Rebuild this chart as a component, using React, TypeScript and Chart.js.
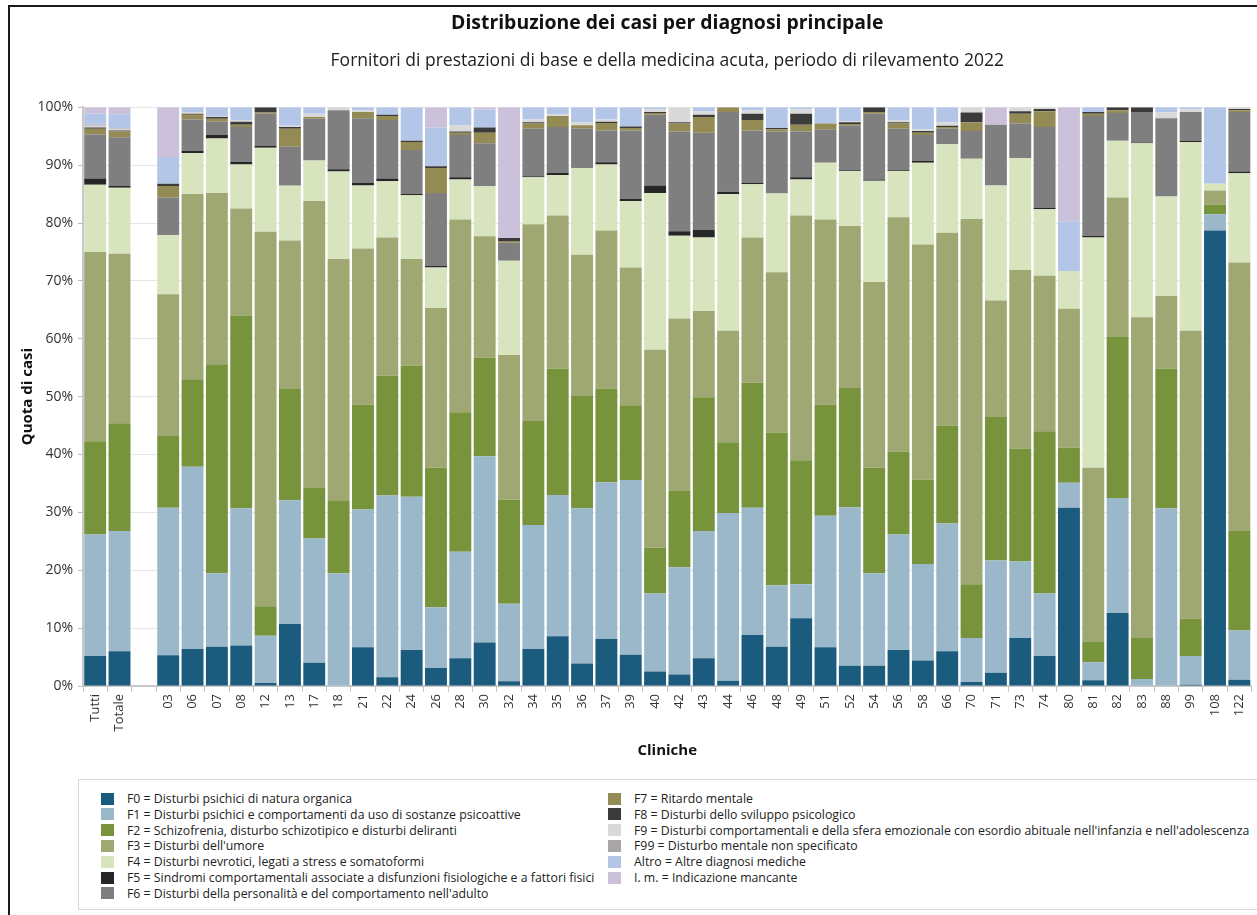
import React, { useEffect, useRef } from 'react';
import { Chart, registerables } from 'chart.js';

Chart.register(...registerables);

const FONT = '"Open Sans", "Noto Sans", sans-serif';

// Categories (groups of 10 per line)
const CATEGORIES = [
  'Tutti', 'Totale', '', '03', '06', '07', '08', '12', '13', '17',
  '18', '21', '22', '24', '26', '28', '30', '32', '34', '35',
  '36', '37', '39', '40', '42', '43', '44', '46', '48', '49',
  '51', '52', '54', '56', '58', '66', '70', '71', '73', '74',
  '80', '81', '82', '83', '88', '99', '108', '122',
];

const F0 = [
  5.2, 6.0, null, 5.3, 6.4, 6.8, 7.0, 0.5, 10.7, 4.0,
  0, 6.7, 1.5, 6.2, 3.1, 4.8, 7.5, 0.8, 6.4, 8.6,
  3.9, 8.1, 5.4, 2.5, 2.0, 4.8, 0.9, 8.8, 6.8, 11.7,
  6.7, 3.5, 3.5, 6.2, 4.4, 6.0, 0.7, 2.3, 8.3, 5.2,
  30.8, 1.0, 12.6, 0, 0, 0.2, 78.7, 1.1,
];
const F1 = [
  21.0, 20.8, null, 25.5, 31.5, 12.7, 23.7, 8.2, 21.4, 21.5,
  19.5, 23.8, 31.4, 26.5, 10.5, 18.4, 32.2, 13.4, 21.4, 24.4,
  26.8, 27.1, 30.2, 13.5, 18.5, 22.0, 29.0, 22.0, 10.6, 5.9,
  22.7, 27.4, 16.0, 20.0, 16.7, 22.1, 7.6, 19.4, 13.2, 10.8,
  4.3, 3.1, 19.9, 1.2, 30.7, 5.0, 2.8, 8.5,
];
const F2 = [
  16.1, 18.6, null, 12.4, 15.1, 36.1, 33.3, 5.1, 19.2, 8.7,
  12.6, 18.1, 20.7, 22.7, 24.1, 24.1, 17.0, 18.0, 18.0, 21.8,
  19.4, 16.2, 12.9, 7.9, 13.2, 23.1, 12.2, 21.6, 26.4, 21.4,
  19.2, 20.6, 18.2, 14.3, 14.6, 16.9, 9.3, 24.8, 19.5, 28.0,
  6.1, 3.5, 27.8, 7.1, 24.1, 6.4, 1.7, 17.2,
];
const F3 = [
  32.7, 29.3, null, 24.5, 32.0, 29.6, 18.5, 64.7, 25.7, 49.6,
  41.7, 27.0, 23.9, 18.4, 27.6, 33.3, 21.0, 25.0, 34.0, 26.5,
  24.4, 27.3, 23.8, 34.2, 29.8, 14.9, 19.3, 25.1, 27.7, 42.3,
  32.0, 28.0, 32.1, 40.5, 40.6, 33.3, 63.1, 20.1, 30.9, 26.9,
  24.0, 30.1, 24.1, 55.4, 12.6, 49.8, 2.4, 46.4,
];
const F4 = [
  11.6, 11.4, null, 10.2, 7.1, 9.4, 7.6, 14.5, 9.5, 7.0,
  15.1, 10.9, 9.7, 11.0, 7.0, 6.9, 8.7, 16.3, 8.1, 7.0,
  15.0, 11.4, 11.5, 27.1, 14.3, 12.7, 23.6, 9.2, 13.6, 6.2,
  9.8, 9.5, 17.5, 8.0, 14.1, 15.3, 10.4, 19.9, 19.3, 11.5,
  6.5, 39.8, 9.8, 30.1, 17.2, 32.6, 1.2, 15.4,
];
const F5 = [
  1.1, 0.3, null, 0, 0.4, 0.6, 0.5, 0.3, 0.1, 0,
  0.4, 0.4, 0.5, 0.2, 0.3, 0.4, 0, 0, 0.2, 0.4,
  0, 0.4, 0.4, 1.3, 0.8, 1.3, 0.4, 0.2, 0, 0.4,
  0, 0.1, 0.2, 0.1, 0.3, 0, 0, 0, 0, 0.2,
  0, 0.3, 0, 0.1, 0, 0.2, 0, 0.3,
];
const F6 = [
  7.6, 8.4, null, 6.5, 5.4, 2.3, 6.0, 5.6, 6.6, 7.2,
  10.2, 11.2, 10.1, 7.6, 12.6, 7.3, 7.4, 3.1, 8.2, 7.9,
  6.8, 5.5, 11.8, 12.2, 17.2, 16.8, 13.8, 9.1, 10.7, 7.9,
  5.8, 7.7, 11.4, 7.2, 4.5, 2.7, 4.8, 10.5, 6.0, 14.0,
  0, 20.7, 4.8, 5.3, 13.5, 5.0, 0, 10.3,
];
const F7 = [
  1.0, 1.0, null, 2.0, 0.8, 0.5, 0.4, 0.2, 3.1, 0.3,
  0, 1.1, 0.7, 1.4, 4.3, 0.4, 1.8, 0.3, 0.9, 1.9,
  0.6, 1.3, 0.4, 0.3, 1.4, 2.7, 0.8, 1.8, 0.4, 1.2,
  1.0, 0.3, 0.3, 0.9, 0.4, 0.3, 1.5, 0, 1.7, 2.7,
  0, 0.4, 0.5, 0, 0, 0, 0, 0.3,
];
const F8 = [
  0.2, 0.2, null, 0.4, 0.2, 0.3, 0.5, 0.9, 0.3, 0,
  0, 0, 0.2, 0.2, 0.3, 0.2, 0.9, 0.5, 0.2, 0,
  0, 0.2, 0.3, 0.2, 0.2, 0.4, 0, 1.1, 0.2, 1.9,
  0, 0.3, 0.8, 0.2, 0.3, 0.2, 1.7, 0, 0.4, 0.4,
  0, 0.3, 0.5, 0.8, 0, 0, 0, 0.2,
];
const F9 = [
  0.3, 0.3, null, 0, 0.3, 0.2, 0.3, 0, 0.2, 0.6,
  0.5, 0.3, 0, 0, 0, 1.1, 0, 0, 0.5, 0.3,
  0.5, 0.4, 0, 0.4, 2.6, 0.6, 0, 0.6, 0, 0.7,
  0, 0.2, 0, 0.4, 0.3, 0.6, 0.9, 0, 0.7, 0.3,
  0, 0, 0, 0, 1.0, 0.4, 0, 0.3,
];
const F99 = [
  0.2, 0.1, null, 0, 0, 0, 0, 0, 0, 0,
  0, 0, 0, 0, 0, 0, 0, 0, 0, 0,
  0, 0, 0, 0, 0, 0, 0, 0, 0, 0,
  0, 0, 0, 0, 0, 0, 0, 0, 0, 0,
  0, 0, 0, 0, 0, 0, 0, 0,
];
const ALTRO = [
  1.9, 2.4, null, 4.6, 0.8, 1.5, 2.2, 0, 3.2, 1.1,
  0, 0.5, 1.3, 5.8, 6.7, 3.1, 3.1, 0, 2.1, 1.2,
  2.6, 2.1, 3.3, 0.4, 0, 0.7, 0, 0.5, 3.6, 0.4,
  2.8, 2.4, 0, 2.2, 3.8, 2.6, 0, 0, 0, 0,
  8.6, 0.8, 0, 0, 0.9, 0.4, 13.2, 0,
];
const IM = [
  1.1, 1.2, null, 8.6, 0, 0, 0, 0, 0, 0,
  0, 0, 0, 0, 3.5, 0, 0.4, 22.6, 0, 0,
  0, 0, 0, 0, 0, 0, 0, 0, 0, 0,
  0, 0, 0, 0, 0, 0, 0, 3.0, 0, 0,
  19.7, 0, 0, 0, 0, 0, 0, 0,
];

const SERIES_LABELS = [
  'F0 = Disturbi psichici di natura organica',
  'F1 = Disturbi psichici e comportamenti da uso di sostanze psicoattive',
  'F2 = Schizofrenia, disturbo schizotipico e disturbi deliranti',
  "F3 = Disturbi dell'umore",
  'F4 = Disturbi nevrotici, legati a stress e somatoformi',
  'F5 = Sindromi comportamentali associate a disfunzioni fisiologiche e a fattori fisici',
  "F6 = Disturbi della personalità e del comportamento nell'adulto",
  'F7 = Ritardo mentale',
  'F8 = Disturbi dello sviluppo psicologico',
  "F9 = Disturbi comportamentali e della sfera emozionale con esordio abituale nell'infanzia e nell'adolescenza",
  'F99 = Disturbo mentale non specificato',
  'Altro = Altre diagnosi mediche',
  'I. m. = Indicazione mancante',
];
const SERIES_COLORS = [
  '#1b5b7e', '#9ab8c9', '#77933c', '#9fa873', '#d8e4bd', '#262626', '#7f7f7f',
  '#948a54', '#3b3b3b', '#d9d9d9', '#aaa6a6', '#b3c6e7', '#ccc1da',
];
const SERIES_VALUES = [F0, F1, F2, F3, F4, F5, F6, F7, F8, F9, F99, ALTRO, IM];

const Y_TICKS_STEP = 10;
const TITLE = 'Distribuzione dei casi per diagnosi principale';
const SUBTITLE = 'Fornitori di prestazioni di base e della medicina acuta, periodo di rilevamento 2022';

const CANVAS_W = 1257;
const CANVAS_H = 775;

export default function App() {
  const ref = useRef<HTMLCanvasElement>(null);

  useEffect(() => {
    if (!ref.current) return;
    Chart.defaults.font.family = FONT;
    const chart = new Chart(ref.current, {
      type: 'bar',
      data: {
        labels: CATEGORIES,
        datasets: SERIES_VALUES.map((vals, i) => ({
          label: SERIES_LABELS[i],
          data: vals,
          backgroundColor: SERIES_COLORS[i],
          borderWidth: 0,
          categoryPercentage: 1,
          barPercentage: 0.9,
        })),
      },
      options: {
        responsive: false,
        animation: false,
        layout: { padding: { left: 10, right: 5, top: 0, bottom: 0 } },
        plugins: {
          legend: { display: false },
          tooltip: { enabled: false },
          title: {
            display: true,
            text: TITLE,
            fullSize: false,
            color: '#111',
            font: { size: 19.4, weight: 'bold' },
            padding: { top: 12, bottom: 0 },
          },
          subtitle: {
            display: true,
            text: SUBTITLE,
            fullSize: false,
            color: '#222',
            font: { size: 17.5 },
            padding: { top: 15, bottom: 36 },
          },
        },
        scales: {
          x: {
            stacked: true,
            ticks: {
              autoSkip: false,
              maxRotation: 90,
              minRotation: 90,
              color: '#333',
              font: { size: 13 },
              padding: 2,
            },
            grid: {
              display: true,
              drawOnChartArea: false,
              offset: true,
              tickLength: 6,
              color: '#c8c8c8',
            },
            border: { color: '#c8c8c8', width: 2 },
            title: {
              display: true,
              text: 'Cliniche',
              color: '#111',
              font: { size: 15, weight: 'bold' },
              padding: { top: 0, bottom: 15 },
            },
            afterFit: (s: any) => { s.height = 89; },
          },
          y: {
            stacked: true,
            min: 0,
            max: 100,
            ticks: {
              stepSize: Y_TICKS_STEP,
              color: '#333',
              font: { size: 14 },
              padding: 5,
              callback: (v: any) => v + '%',
            },
            grid: { color: '#e6e6e6', tickColor: '#bbb', tickLength: 5 },
            border: { color: '#c8c8c8', width: 2 },
            title: {
              display: true,
              text: 'Quota di casi',
              color: '#111',
              font: { size: 15, weight: 'bold' },
              padding: { top: 9, bottom: 0 },
            },
            afterFit: (s: any) => { s.width = 73; },
          },
        },
      },
    });
    return () => chart.destroy();
  }, []);

  const half = Math.ceil(SERIES_LABELS.length / 2);

  return (
    <div style={{ position: 'fixed', left: 0, top: 0, width: 1257, height: 915, overflow: 'hidden', background: '#fff', fontFamily: FONT }}>
      <div style={{ position: 'absolute', left: 8, top: 5, width: 1400, height: 1000, border: '2px solid #1a1a1a', boxSizing: 'border-box' }} />
      <canvas ref={ref} width={CANVAS_W} height={CANVAS_H} style={{ position: 'absolute', left: 0, top: 0, width: CANVAS_W, height: CANVAS_H }} />
      <div style={{ position: 'absolute', left: 78, top: 779, width: 1400, height: 131, border: '1px solid #d6d6d6', boxSizing: 'border-box' }}>
        {SERIES_LABELS.map((lab, i) => {
          const col = i < half ? 0 : 1;
          const row = col === 0 ? i : i - half;
          return (
            <div key={lab} style={{ position: 'absolute', left: col === 0 ? 22 : 529, top: 10.5 + row * 15.8, height: 16, display: 'flex', alignItems: 'center', whiteSpace: 'nowrap' }}>
              <div style={{ width: 13, height: 12, background: SERIES_COLORS[i], marginRight: 13 }} />
              <span style={{ fontSize: 12.3, color: '#222' }}>{lab}</span>
            </div>
          );
        })}
      </div>
    </div>
  );
}
